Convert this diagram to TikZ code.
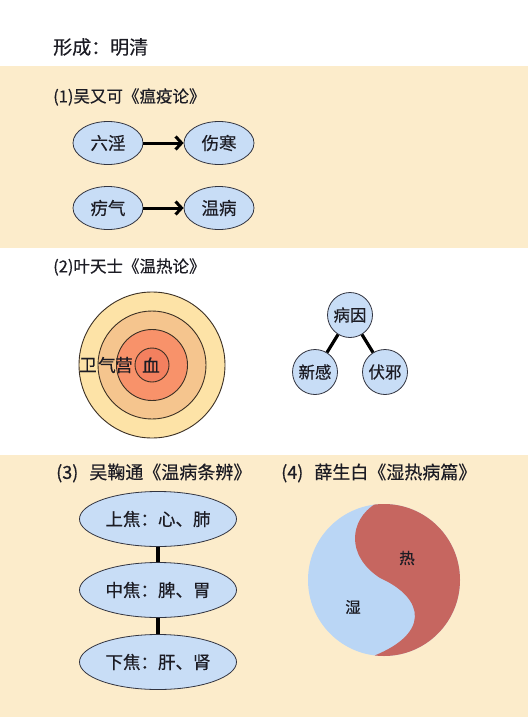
\documentclass[tikz,border=0pt]{standalone}
\usepackage{fontspec}
\setmainfont{Noto Sans CJK SC}[FakeBold=0.45]
\usetikzlibrary{arrows.meta,shapes.geometric}
\definecolor{cream}{RGB}{252,236,203}
\definecolor{nodeblue}{RGB}{200,221,246}
\definecolor{edgegray}{RGB}{50,52,64}
\definecolor{txt}{RGB}{28,28,36}
\definecolor{ringA}{RGB}{253,227,167}
\definecolor{ringB}{RGB}{245,197,142}
\definecolor{ringC}{RGB}{248,146,106}
\definecolor{ringD}{RGB}{243,128,95}
\definecolor{ringline}{RGB}{60,48,36}
\definecolor{yinblue}{RGB}{186,214,245}
\definecolor{yangred}{RGB}{198,102,96}
\tikzset{
  heading/.style={anchor=west,inner sep=0pt,text=txt,font=\fontsize{16.5}{18}\selectfont},
  bigheading/.style={heading,font=\fontsize{18}{20}\selectfont},
  oval/.style={ellipse,draw=edgegray,line width=0.8pt,fill=nodeblue,inner sep=0pt,text=txt,
    minimum width=70pt,minimum height=43pt,font=\fontsize{17.5}{19}\selectfont},
  bigoval/.style={oval,minimum width=157pt,minimum height=55pt,font=\fontsize{17.5}{19}\selectfont},
  disc/.style={circle,draw=edgegray,line width=0.8pt,fill=nodeblue,inner sep=0pt,text=txt,
    minimum size=45pt,font=\fontsize{16.5}{18}\selectfont},
  flow/.style={line width=3pt,-{Straight Barb[length=6pt,width=13pt,line width=3pt]}},
  link/.style={line width=3.2pt},
  ring/.style={draw=ringline,line width=0.9pt},
  ringlabel/.style={inner sep=0pt,text=txt,font=\fontsize{17.5}{18}\selectfont},
  yylabel/.style={inner sep=0pt,text=txt,font=\fontsize{15.5}{16}\selectfont}
}
\begin{document}
\begin{tikzpicture}[x=1pt,y=-1pt]
\useasboundingbox (0,0) rectangle (528,717);
\fill[white] (0,0) rectangle (528,717);
% bands
\fill[cream] (0,66) rectangle (528,248);
\fill[cream] (0,455) rectangle (528,717);

% title
\node[anchor=west,inner sep=0pt,text=txt,font=\fontsize{19}{21}\selectfont] (title) at (53,47) {形成：明清};

% section 1
\node[heading] (h1) at (53,97) {(1)吴又可《瘟疫论》};
\node[oval] (liuyin) at (108,143) {六淫};
\node[oval] (shanghan) at (219,143) {伤寒};
\node[oval] (liqi) at (108,208) {疠气};
\node[oval] (wenbing) at (219,208) {温病};
\draw[flow] (liuyin) -- (shanghan);
\draw[flow] (liqi) -- (wenbing);

% section 2
\node[heading] (h2) at (53,267) {(2)叶天士《温热论》};
\coordinate (rc) at (152,365);
\fill[ringA] (rc) circle (73); \draw[ring] (rc) circle (73);
\fill[ringB] (rc) circle (54); \draw[ring] (rc) circle (54);
\fill[ringC] (rc) circle (35.5); \draw[ring] (rc) circle (35.5);
\fill[ringD] (rc) circle (17); \draw[ring] (rc) circle (17);
\node[ringlabel] (wei) at (88,365) {卫};
\node[ringlabel] (qi) at (107,365) {气};
\node[ringlabel] (ying) at (124,365) {营};
\node[ringlabel] (xue) at (151,365) {血};

\node[disc] (bingyin) at (350,315) {病因};
\node[disc] (xingan) at (315,372) {新感};
\node[disc] (fuxie) at (385,372) {伏邪};
\draw[link] (bingyin) -- (xingan);
\draw[link] (bingyin) -- (fuxie);

% section 3
\node[bigheading] (h3) at (56,473) {(3)\hspace{11pt}吴鞠通《温病条辨》};
\node[bigoval] (shang) at (158,519) {上焦：心、肺};
\node[bigoval] (zhong) at (158,590) {中焦：脾、胃};
\node[bigoval] (xia) at (158,662) {下焦：肝、肾};
\draw[link] (shang) -- (zhong);
\draw[link] (zhong) -- (xia);

% section 4
\node[bigheading] (h4) at (281,473) {(4)\hspace{11pt}薛生白《湿热病篇》};
\coordinate (yc) at (384,580);
\fill[yinblue] (yc) circle (76);
\begin{scope}
  \clip (yc) circle (76);
  \fill[yangred] (375,500) -- (375,504) .. controls (350,520) and (345,555) .. (380,578)
     .. controls (425,598) and (432,635) .. (368,658) -- (368,665) -- (470,665) -- (470,500) -- cycle;
\end{scope}
\node[yylabel] (re) at (407,558) {热};
\node[yylabel] (shi) at (353,607) {湿};
\end{tikzpicture}
\end{document}
